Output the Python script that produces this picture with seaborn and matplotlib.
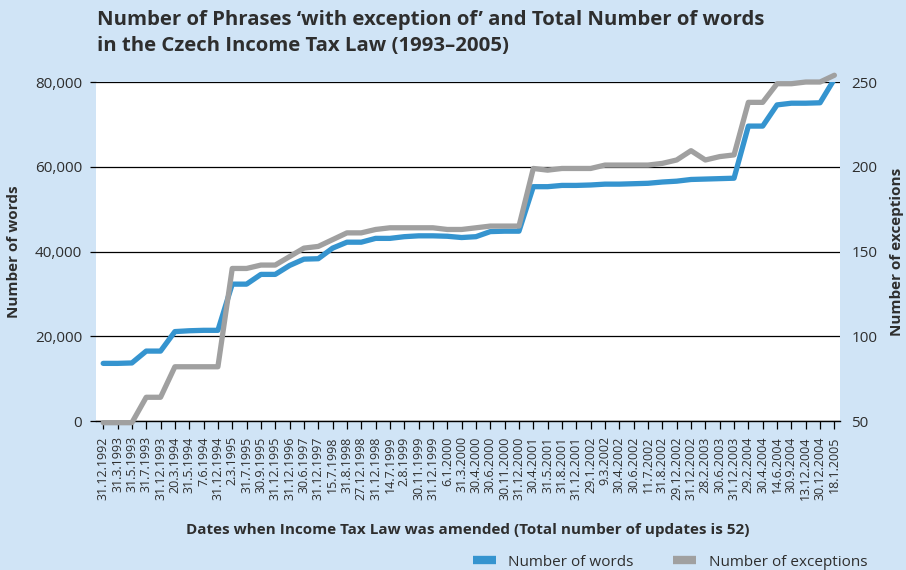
import numpy as np
import pandas as pd
import matplotlib.pyplot as plt
import seaborn as sns
from matplotlib.lines import Line2D

# Data
dates = ['31.12.1992', '31.3.1993', '31.5.1993', '31.7.1993', '31.12.1993',
         '20.3.1994', '31.5.1994', '7.6.1994', '31.12.1994', '2.3.1995',
         '31.7.1995', '30.9.1995', '31.12.1995', '31.12.1996', '30.6.1997',
         '31.12.1997', '15.7.1998', '31.8.1998', '27.12.1998', '31.12.1998',
         '14.7.1999', '2.8.1999', '30.11.1999', '31.12.1999', '6.1.2000',
         '31.3.2000', '30.4.2000', '30.6.2000', '30.11.2000', '31.12.2000',
         '30.4.2001', '31.5.2001', '31.8.2001', '31.12.2001', '29.1.2002',
         '9.3.2002', '30.4.2002', '30.6.2002', '11.7.2002', '31.8.2002',
         '29.12.2002', '31.12.2002', '28.2.2003', '30.6.2003', '31.12.2003',
         '29.2.2004', '30.4.2004', '14.6.2004', '30.9.2004', '13.12.2004',
         '30.12.2004', '18.1.2005']

words = [13600, 13600, 13700, 16500, 16500, 21100, 21300, 21400, 21400, 32300,
         32300, 34600, 34600, 36700, 38200, 38300, 40800, 42200, 42200, 43100,
         43100, 43500, 43700, 43700, 43600, 43300, 43500, 44700, 44800, 44800,
         55300, 55300, 55600, 55600, 55700, 55900, 55900, 56000, 56100, 56400,
         56600, 57000, 57100, 57200, 57300, 69600, 69600, 74600, 75000, 75000,
         75100, 80700]

exceptions = [49, 49, 49, 64, 64, 82, 82, 82, 82, 140,
              140, 142, 142, 147, 152, 153, 157, 161, 161, 163,
              164, 164, 164, 164, 163, 163, 164, 165, 165, 165,
              199, 198, 199, 199, 199, 201, 201, 201, 201, 202,
              204, 209.5, 204, 206, 207, 238, 238, 249, 249, 250,
              250, 254]

left_ticks = [0, 20000, 40000, 60000, 80000]
right_ticks = [50, 100, 150, 200, 250]

df = pd.DataFrame({'pos': np.arange(len(dates)), 'words': words, 'exceptions': exceptions})

sns.set_style('white')
plt.rcParams['font.family'] = ['Open Sans', 'DejaVu Sans']

bg = '#d0e4f6'
blue = '#3594cf'
gray = '#a0a0a0'
txt = '#2e2e2e'

fig = plt.figure(figsize=(9.06, 5.70), dpi=100, facecolor=bg)
ax = fig.add_axes([0.106, 0.2614, 0.8216, 0.5947])
ax.set_facecolor('white')
ax2 = ax.twinx()

sns.lineplot(data=df, x='pos', y='words', ax=ax, color=blue, lw=3.8, zorder=3)
sns.lineplot(data=df, x='pos', y='exceptions', ax=ax2, color=gray, lw=3.8, clip_on=False)

# left axis
ax.set_ylim(0, 80000)
ax.set_yticks(left_ticks)
ax.set_yticklabels([f'{v:,}' for v in left_ticks], fontsize=11, color=txt)
ax.yaxis.grid(True, color='black', lw=0.9)
ax.set_axisbelow(True)
ax.tick_params(axis='y', length=4, width=0.9, color='black', pad=6)

# right axis
ax2.set_ylim(50, 250)
ax2.set_yticks(right_ticks)
ax2.set_yticklabels([str(v) for v in right_ticks], fontsize=11, color=txt)
ax2.tick_params(axis='y', length=0, pad=8)
ax2.grid(False)

# x axis
ax.set_xlim(-0.5, 51.42)
ax.set_xticks(df['pos'])
ax.set_xticklabels(dates, rotation=90, fontsize=9, color=txt)
ax.tick_params(axis='x', length=6, width=0.9, color='black', pad=5, bottom=True)

for a in (ax, ax2):
    for side in ('top', 'left', 'right'):
        a.spines[side].set_visible(False)
ax.spines['bottom'].set_color('black')
ax.spines['bottom'].set_linewidth(1)
ax2.spines['bottom'].set_visible(False)

ax.set_xlabel('Dates when Income Tax Law was amended (Total number of updates is 52)',
              fontsize=11, fontweight='bold', color=txt, labelpad=17)
ax.set_ylabel('Number of words', fontsize=11, fontweight='bold', color=txt, labelpad=10)
ax2.set_ylabel('Number of exceptions', fontsize=11, fontweight='bold', color=txt, labelpad=9)

fig.text(97 / 906, 1 - 10 / 570,
         'Number of Phrases ‘with exception of’ and Total Number of words\n'
         'in the Czech Income Tax Law (1993–2005)',
         ha='left', va='top', fontsize=14.7, fontweight='bold', color=txt, linespacing=1.4)

handles = [Line2D([], [], color=blue, lw=6, solid_capstyle='butt'),
           Line2D([], [], color=gray, lw=6, solid_capstyle='butt')]
fig.legend(handles, ['Number of words', 'Number of exceptions'], ncol=2, frameon=False,
           loc='center right', bbox_to_anchor=(0.957, 0.014), fontsize=11,
           labelcolor=txt, handlelength=1.5, handletextpad=0.8, columnspacing=2.6,
           borderpad=0, borderaxespad=0)

fig.savefig('out.png', dpi=100, facecolor=bg)
